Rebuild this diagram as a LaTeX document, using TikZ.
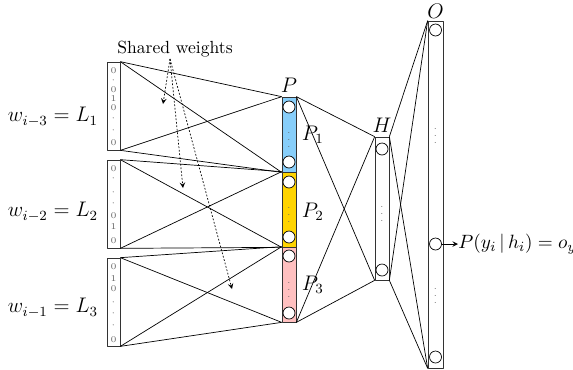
\documentclass[tikz,border=0pt]{standalone}
\usepackage{amsmath}
\definecolor{pone}{RGB}{135,206,250}
\definecolor{ptwo}{RGB}{255,212,0}
\definecolor{pthree}{RGB}{255,192,192}
\begin{document}
\begin{tikzpicture}[x=0.02cm, y=-0.02cm, line join=round, >=stealth,
		layer/.style={draw=black!80, inner sep=0pt},
		neuron/.style={circle, draw, fill=white, minimum size=0.24cm, inner sep=0pt},
		digit/.style={text=black!60, font=\tiny, inner sep=0pt},
		dotsv/.style={text=black!60, font=\tiny, inner sep=0pt}]
		\useasboundingbox (0,0) rectangle (573,369);
		\node[layer, minimum width=0.26cm, minimum height=1.76cm] (L1) at (113.5,106) {};
		\node[layer, minimum width=0.26cm, minimum height=1.76cm] (L2) at (113.5,204) {};
		\node[layer, minimum width=0.26cm, minimum height=1.76cm] (L3) at (113.5,302) {};
		\foreach \y/\d [count=\k] in {71/0, 80/\cdot, 90/0, 99/1, 108/0, 118/\cdot, 130/\cdot, 143/0}
		\node[digit] (da\k) at (113.5,\y) {$\d$};
		\foreach \y/\d [count=\k] in {169/0, 178/\cdot, 192/\cdot, 203/\cdot, 216/0, 227/1, 241/0}
		\node[digit] (db\k) at (113.5,\y) {$\d$};
		\foreach \y/\d [count=\k] in {267/0, 279/1, 289/0, 302/\cdot, 313/\cdot, 325/\cdot, 340/0}
		\node[digit] (dc\k) at (113.5,\y) {$\d$};
		\node[anchor=east, font=\large, inner sep=1pt] (w1) at (100,117) {$w_{i-3} = L_1$};
		\node[anchor=east, font=\large, inner sep=1pt] (w2) at (100,212) {$w_{i-2} = L_2$};
		\node[anchor=east, font=\large, inner sep=1pt] (w3) at (100,308) {$w_{i-1} = L_3$};
		\node[layer, fill=pone, minimum width=0.28cm, minimum height=1.5cm] (P1) at (289,134.5) {};
		\node[layer, fill=ptwo, minimum width=0.28cm, minimum height=1.5cm] (P2) at (289,209.5) {};
		\node[layer, fill=pthree, minimum width=0.28cm, minimum height=1.5cm] (P3) at (289,284.5) {};
		\node[layer, minimum width=0.28cm, minimum height=2.86cm] (H) at (382,208.5) {};
		\node[layer, minimum width=0.30cm, minimum height=6.94cm] (O) at (435.5,194.5) {};
		\node[above, font=\large, inner sep=2pt] (Plab) at (P1.north) {$P$};
		\node[above, font=\large, inner sep=2pt] (Hlab) at (H.north) {$H$};
		\node[above, font=\large, inner sep=1pt] (Olab) at (O.north) {$O$};
		\node[right, font=\large, inner sep=3pt] (P1lab) at (P1.east) {$P_1$};
		\node[right, font=\large, inner sep=3pt] (P2lab) at ([yshift=-0.05cm]P2.east) {$P_2$};
		\node[right, font=\large, inner sep=3pt] (P3lab) at (P3.east) {$P_3$};
		\foreach \y [count=\k] in {107,162,182,237,256,313}
		\node[neuron] (p\k) at (289,\y) {};
		\node[neuron] (h1) at (382,149) {};
		\node[neuron] (h2) at (382,270) {};
		\node[neuron] (o1) at (435.5,30) {};
		\node[neuron] (o2) at (435.5,244) {};
		\node[neuron] (o3) at (435.5,357) {};
		\node[dotsv] (pd1) at (289,134.5) {$\vdots$};
		\node[dotsv] (pd2) at (289,209.5) {$\vdots$};
		\node[dotsv] (pd3) at (289,284.5) {$\vdots$};
		\node[dotsv] (hd) at (382,208.5) {$\vdots$};
		\node[dotsv] (od1) at (435.5,131) {$\vdots$};
		\node[dotsv] (od2) at (435.5,291) {$\vdots$};
		\foreach \a/\b in {L1/P1, L2/P2, L3/P3} {
			\draw (\a.north east) -- (\b.north west);
			\draw (\a.north east) -- (\b.south west);
			\draw (\a.south east) -- (\b.north west);
			\draw (\a.south east) -- (\b.south west);
		}
		\draw (P1.north east) -- (H.north west);
		\draw (P1.north east) -- (H.south west);
		\draw (P3.south east) -- (H.north west);
		\draw (P3.south east) -- (H.south west);
		\draw (H.north east) -- (O.north west);
		\draw (H.north east) -- (O.south west);
		\draw (H.south east) -- (O.north west);
		\draw (H.south east) -- (O.south west);
		\node[anchor=west, font=\fontsize{11}{13}\selectfont, inner sep=0pt] (out) at (458,244) {$P(y_i\,|\,h_i) = o_{y_i},$};
		\draw[->] (o2) -- (out);
		\node (shared) at (175,49) {Shared weights};
		\coordinate (sw) at (170,59);
		\coordinate (t1) at (163,104);
		\coordinate (t2) at (183,188);
		\coordinate (t3) at (232,289);
		\foreach \t in {t1,t2,t3}
		\draw[->, dash pattern=on 1pt off 1pt] (sw) -- (\t);
\end{tikzpicture}
\end{document}
